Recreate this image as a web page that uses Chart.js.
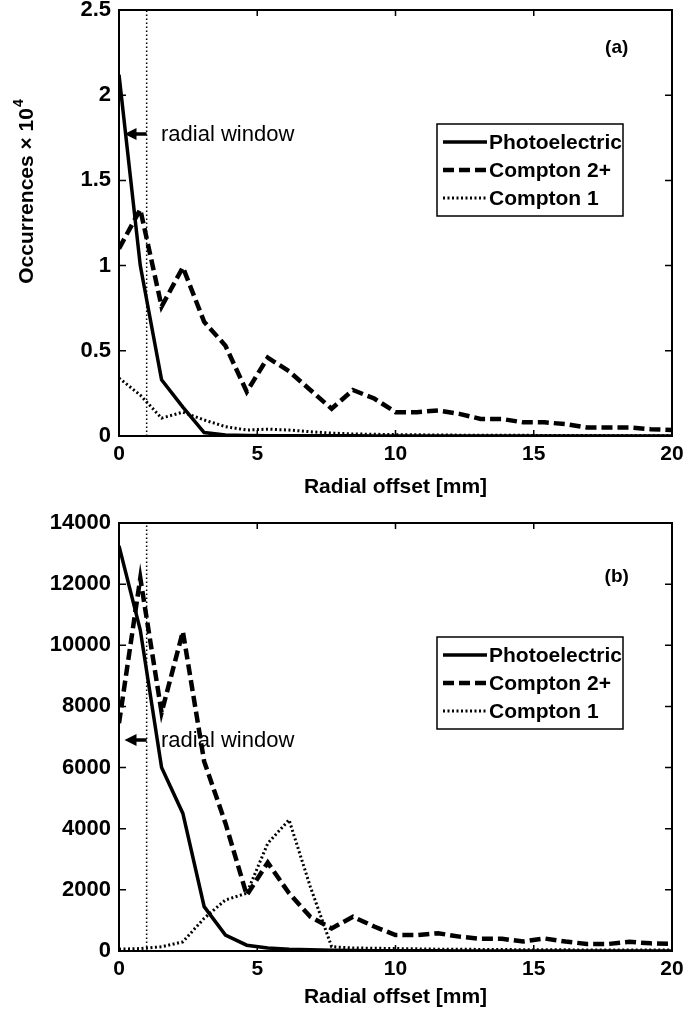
<!DOCTYPE html>
<html>
<head>
<meta charset="utf-8">
<script src="https://cdn.jsdelivr.net/npm/chart.js@4.4.1/dist/chart.umd.min.js"></script>
<style>
html, body { margin: 0; padding: 0; background: #fff; }
#wrap { position: relative; width: 684px; height: 1018px; }
canvas { position: absolute; left: 0; }
#chartA { top: 0; }
#chartB { top: 509px; }
</style>
</head>
<body>
<div id="wrap">
  <canvas id="chartA" width="684" height="509"></canvas>
  <canvas id="chartB" width="684" height="509"></canvas>
</div>
<script>
// radial offset bins [mm]
const radialMm = [0, 0.77, 1.54, 2.31, 3.08, 3.85, 4.62, 5.38, 6.15, 6.92, 7.69, 8.46, 9.23, 10,
  10.77, 11.54, 12.31, 13.08, 13.85, 14.62, 15.38, 16.15, 16.92, 17.69, 18.46, 19.23, 20];
const seriesNames = ["Photoelectric", "Compton 2+", "Compton 1"];

// panel (a), occurrences in units of 10^4
const photoA = [2.12, 1.00, 0.33, 0.17, 0.02, 0.006, 0.003, 0.002, 0.001, 0.001, 0.001, 0.001, 0, 0,
  0, 0, 0, 0, 0, 0, 0, 0, 0, 0, 0, 0, 0];
const compton2A = [1.10, 1.33, 0.76, 0.99, 0.67, 0.53, 0.26, 0.46, 0.38, 0.27, 0.16, 0.27, 0.22, 0.14,
  0.14, 0.15, 0.13, 0.10, 0.10, 0.08, 0.08, 0.07, 0.05, 0.05, 0.05, 0.04, 0.035];
const compton1A = [0.34, 0.24, 0.105, 0.14, 0.094, 0.055, 0.035, 0.04, 0.035, 0.025, 0.017, 0.012, 0.01, 0.008,
  0.007, 0.006, 0.005, 0.005, 0.004, 0.004, 0.003, 0.003, 0.003, 0.002, 0.002, 0.002, 0.002];

// panel (b), occurrences
const photoB = [13250, 10500, 6000, 4500, 1450, 520, 190, 100, 60, 40, 25, 15, 10, 8,
  5, 5, 4, 3, 3, 2, 2, 2, 1, 1, 1, 1, 1];
const compton2B = [7450, 12200, 7800, 10450, 6200, 4180, 1830, 2890, 1890, 1120, 740, 1120, 800, 520,
  520, 580, 470, 400, 400, 310, 410, 310, 230, 230, 300, 250, 230];
const compton1B = [60, 80, 140, 300, 1070, 1670, 1890, 3520, 4290, 2100, 140, 100, 90, 80,
  70, 60, 60, 50, 50, 40, 40, 40, 30, 30, 30, 30, 30];

const xTicks = [0, 5, 10, 15, 20];
const yTicksA = [0, 0.5, 1, 1.5, 2, 2.5];
const yTicksB = [0, 2000, 4000, 6000, 8000, 10000, 12000, 14000];

const windowMm = 1;          // radial window edge
const arrowTipMm = 0.2;
const windowTextMm = 1.52;

Chart.defaults.font.family = '"Liberation Sans", Arial, sans-serif';
Chart.defaults.color = '#000';

const pts = (vals) => vals.map((v, i) => ({ x: radialMm[i], y: v }));

const matlabAxes = {
  id: 'matlabAxes',
  beforeDatasetsDraw(chart, args, o) {
    const { ctx, scales: { x, y } } = chart;
    const ay = Math.round(y.getPixelForValue(o.arrowAt));
    const xTail = x.getPixelForValue(windowMm);
    const xTip = x.getPixelForValue(arrowTipMm);
    ctx.save();
    ctx.strokeStyle = '#000';
    ctx.fillStyle = '#000';
    ctx.lineWidth = 3.5;
    ctx.beginPath();
    ctx.moveTo(xTail, ay);
    ctx.lineTo(xTip + 8, ay);
    ctx.stroke();
    ctx.beginPath();
    ctx.moveTo(xTip, ay);
    ctx.lineTo(xTip + 12, ay - 6);
    ctx.lineTo(xTip + 12, ay + 6);
    ctx.closePath();
    ctx.fill();
    ctx.font = '22px "Liberation Sans", Arial, sans-serif';
    ctx.textBaseline = 'middle';
    ctx.textAlign = 'left';
    ctx.fillText('radial window', x.getPixelForValue(windowTextMm), ay + 1);
    ctx.restore();
  },
  afterDatasetsDraw(chart, args, o) {
    const { ctx, chartArea: a, scales: { x, y } } = chart;
    ctx.save();
    ctx.strokeStyle = '#000';
    ctx.lineWidth = 2;
    ctx.strokeRect(a.left, a.top, a.right - a.left, a.bottom - a.top);
    // inward ticks
    ctx.beginPath();
    xTicks.forEach(t => {
      const px = x.getPixelForValue(t);
      ctx.moveTo(px, a.bottom); ctx.lineTo(px, a.bottom - 6);
      ctx.moveTo(px, a.top); ctx.lineTo(px, a.top + 6);
    });
    o.yTicks.forEach(t => {
      const py = y.getPixelForValue(t);
      ctx.moveTo(a.left, py); ctx.lineTo(a.left + 7, py);
      ctx.moveTo(a.right, py); ctx.lineTo(a.right - 7, py);
    });
    ctx.lineWidth = 1.5;
    ctx.stroke();

    // legend box
    const lx = 437, lw = 186, lt = a.top + 114, lh = 92;
    ctx.fillStyle = '#fff';
    ctx.fillRect(lx, lt, lw, lh);
    ctx.lineWidth = 1.5;
    ctx.strokeRect(lx, lt, lw, lh);
    ctx.font = 'bold 21px "Liberation Sans", Arial, sans-serif';
    ctx.textBaseline = 'middle';
    ctx.fillStyle = '#000';
    [18, 46, 74].forEach((dy, i) => {
      const ds = chart.data.datasets[i];
      const ly = lt + dy;
      ctx.save();
      ctx.lineWidth = ds.borderWidth;
      ctx.setLineDash(ds.borderDash || []);
      ctx.beginPath();
      ctx.moveTo(lx + 6, ly);
      ctx.lineTo(lx + 50, ly);
      ctx.stroke();
      ctx.restore();
      ctx.fillText(ds.label, lx + 52, ly + 1);
    });

    // panel label
    ctx.font = 'bold 19px "Liberation Sans", Arial, sans-serif';
    ctx.textAlign = 'center';
    ctx.fillText(o.panel, x.getPixelForValue(o.panelAt[0]), y.getPixelForValue(o.panelAt[1]));
    ctx.restore();
  },
  afterDraw(chart, args, o) {
    const { ctx } = chart;
    ctx.save();
    ctx.translate(33, o.titleY);
    ctx.rotate(-Math.PI / 2);
    ctx.fillStyle = '#000';
    ctx.textBaseline = 'alphabetic';
    ctx.textAlign = 'left';
    const big = 'bold 21px "Liberation Sans", Arial, sans-serif';
    const sup = 'bold 14px "Liberation Sans", Arial, sans-serif';
    ctx.font = big;
    const w1 = ctx.measureText(o.title).width;
    ctx.font = sup;
    const w2 = o.titleSup ? ctx.measureText(o.titleSup).width : 0;
    let cx = -(w1 + w2) / 2;
    ctx.font = big;
    ctx.fillText(o.title, cx, 0);
    if (o.titleSup) {
      ctx.font = sup;
      ctx.fillText(o.titleSup, cx + w1 + 1, -10);
    }
    ctx.restore();
  }
};

function makeChart(id, series, o) {
  return new Chart(document.getElementById(id), {
    type: 'line',
    data: {
      datasets: [
        { label: seriesNames[0], data: pts(series[0]), borderColor: '#000', borderWidth: 3.5, borderDash: [] },
        { label: seriesNames[1], data: pts(series[1]), borderColor: '#000', borderWidth: 4.5, borderDash: [11, 5] },
        { label: seriesNames[2], data: pts(series[2]), borderColor: '#000', borderWidth: 3, borderDash: [2, 2.5] },
        { label: 'window', data: [{ x: windowMm, y: 0 }, { x: windowMm, y: o.yMax }],
          borderColor: '#000', borderWidth: 1.5, borderDash: [1.5, 2.5] }
      ]
    },
    options: {
      responsive: false,
      animation: false,
      layout: { padding: { top: o.padTop, right: 12, left: 0, bottom: 0 } },
      elements: {
        point: { radius: 0 },
        line: { tension: 0, borderCapStyle: 'butt', borderJoinStyle: 'miter', fill: false }
      },
      plugins: {
        legend: { display: false },
        tooltip: { enabled: false },
        matlabAxes: o.plugin
      },
      scales: {
        x: {
          type: 'linear', min: 0, max: 20,
          ticks: { stepSize: 5, padding: 6, font: { size: 21, weight: 'bold' }, maxRotation: 0 },
          grid: { display: false, drawTicks: false },
          border: { display: false },
          title: { display: true, text: 'Radial offset [mm]', font: { size: 21, weight: 'bold' }, padding: { top: 0, bottom: o.titlePad } },
          afterFit(s) { s.height = o.xAxisH; s.paddingLeft = 0; s.paddingRight = 0; }
        },
        y: {
          type: 'linear', min: 0, max: o.yMax,
          ticks: { stepSize: o.yStep, padding: 8, font: { size: 22, weight: 'bold' }, callback: v => String(v) },
          grid: { display: false, drawTicks: false },
          border: { display: false },
          afterFit(s) { s.width = 119; s.paddingTop = 0; s.paddingBottom = 0; }
        }
      }
    },
    plugins: [matlabAxes]
  });
}

makeChart('chartA', [photoA, compton2A, compton1A], {
  yMax: 2.5, yStep: 0.5, padTop: 10, xAxisH: 73, titlePad: 9,
  plugin: { arrowAt: 1.77, yTicks: yTicksA, panel: '(a)', panelAt: [18.0, 2.28],
    title: 'Occurrences \u00d7 10', titleSup: '4', titleY: 192 }
});

makeChart('chartB', [photoB, compton2B, compton1B], {
  yMax: 14000, yStep: 2000, padTop: 14, xAxisH: 67, titlePad: 8,
  plugin: { arrowAt: 6900, yTicks: yTicksB, panel: '(b)', panelAt: [18.0, 12230],
    title: 'Occurrences', titleSup: '', titleY: 734 }
});
</script>
</body>
</html>
